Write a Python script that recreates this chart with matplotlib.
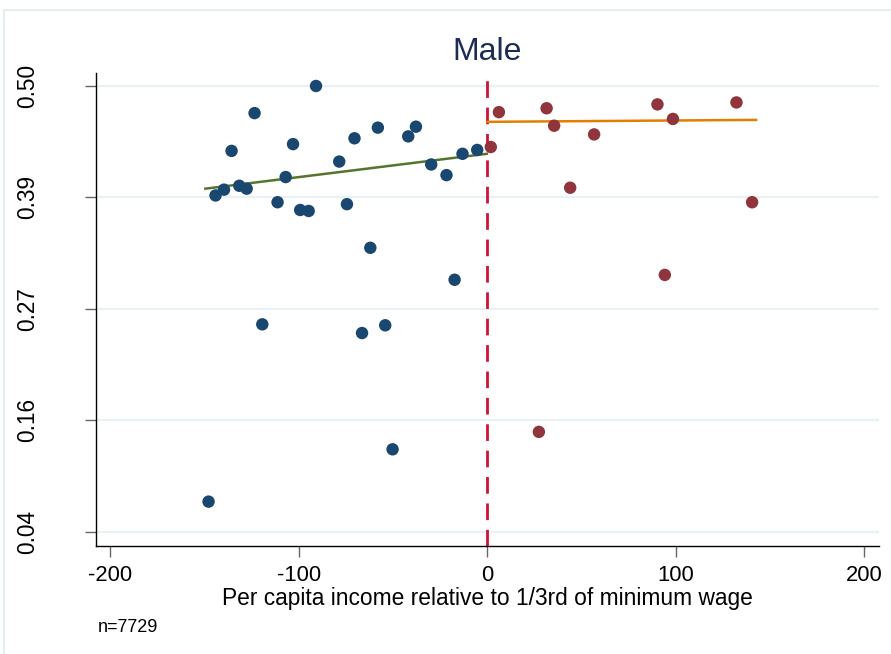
import matplotlib
matplotlib.use("Agg")
import matplotlib.pyplot as plt
from matplotlib.patches import Rectangle
import numpy as np

plt.rcParams['font.family'] = ['Liberation Sans', 'DejaVu Sans']

# Binned means below the threshold
left_x = [-147.8, -144.1, -139.6, -135.6, -131.5, -127.6, -123.4, -119.3, -111.2,
          -106.9, -103.0, -99.2, -94.7, -90.8, -78.5, -74.4, -70.4, -66.4, -62.0,
          -58.0, -54.1, -50.2, -41.9, -37.8, -29.7, -21.6, -17.3, -13.1, -5.3]
left_y = [0.071, 0.387, 0.393, 0.433, 0.397, 0.394, 0.472, 0.254, 0.380,
          0.406, 0.440, 0.372, 0.371, 0.500, 0.422, 0.378, 0.446, 0.245, 0.333,
          0.457, 0.253, 0.125, 0.448, 0.458, 0.419, 0.408, 0.300, 0.430, 0.434]

# Binned means above the threshold
right_x = [1.9, 6.2, 27.4, 31.5, 35.5, 44.0, 56.7, 90.3, 94.2, 98.5, 132.2, 140.5]
right_y = [0.437, 0.473, 0.143, 0.477, 0.459, 0.395, 0.450, 0.481, 0.305, 0.466, 0.483, 0.380]

# Linear fits on each side (endpoints)
fit_left_x = [-149.5, -0.2]
fit_left_y = [0.394, 0.430]
fit_right_x = [0.2, 142.6]
fit_right_y = [0.463, 0.465]

threshold = 0
x_ticks = [-200, -100, 0, 100, 200]
y_ticks = [0.04, 0.155, 0.27, 0.385, 0.50]
y_tick_labels = ["0.04", "0.16", "0.27", "0.39", "0.50"]

title = "Male"
x_label = "Per capita income relative to 1/3rd of minimum wage"
note = "n=7729"

W, H = 891, 654
fig = plt.figure(figsize=(W / 100, H / 100), dpi=100)
fig.patch.set_facecolor("white")

# light outer frame
fig.add_artist(Rectangle((4 / W, -0.1), 1.2, (H - 10) / H + 0.1, transform=fig.transFigure,
                         fill=False, edgecolor="#e6edf1", linewidth=1.5))

ax = fig.add_axes([96 / W, (H - 546) / H, (879 - 96) / W, (546 - 73) / H])
ax.set_xlim(-207.5, 207.8)
ax.set_ylim(0.0252, 0.5134)

for yt in y_ticks:
    ax.axhline(yt, color="#eaf1f4", linewidth=1.6, zorder=0)

ax.axvline(threshold, color="#cf1238", linewidth=2.0, linestyle=(0, (6, 3.5)), zorder=1)

ax.plot(fit_left_x, fit_left_y, color="#55752f", linewidth=1.8, zorder=2)
ax.plot(fit_right_x, fit_right_y, color="#e37e00", linewidth=1.8, zorder=2)

ax.scatter(left_x, left_y, s=80, color="#1a476f", edgecolors="none", zorder=3)
ax.scatter(right_x, right_y, s=80, color="#90353b", edgecolors="none", zorder=3)

ax.set_xticks(x_ticks)
ax.set_xticklabels([str(t) for t in x_ticks], fontsize=15.8)
ax.set_yticks(y_ticks)
ax.set_yticklabels(y_tick_labels, fontsize=16.3, rotation=90, va="center")

ax.tick_params(axis="x", length=8, width=1, color="#666666", pad=6)
ax.tick_params(axis="y", length=8, width=1, color="#666666", pad=33)

for s in ["top", "right"]:
    ax.spines[s].set_visible(False)
for s in ["left", "bottom"]:
    ax.spines[s].set_color("black")
    ax.spines[s].set_linewidth(1.0)

fig.text(487 / W, 1 - 598 / H, x_label, fontsize=16.4, ha="center", va="center")
fig.text(487 / W, 1 - 52 / H, title, fontsize=23, color="#1c2c54", ha="center", va="center")
fig.text(98 / W, 1 - 627 / H, note, fontsize=13, ha="left", va="center")

fig.savefig("out.png", dpi=100)
